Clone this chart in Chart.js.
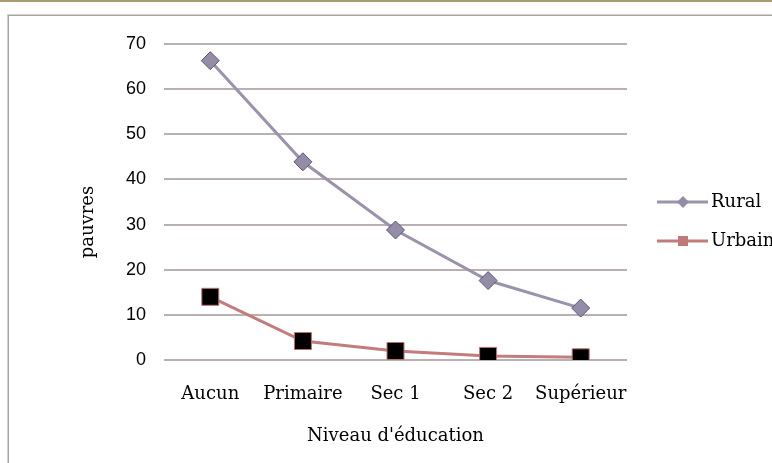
<!DOCTYPE html>
<html><head><meta charset="utf-8">
<script src="https://cdn.jsdelivr.net/npm/chart.js@4"></script>
<style>
html,body{margin:0;padding:0;background:#fff;overflow:hidden;}
#wrap{position:relative;width:772px;height:463px;overflow:hidden;}
#topline{position:absolute;left:0;top:0;width:772px;height:2px;background:#a89a6e;}
#box{position:absolute;left:7px;top:14px;width:820px;height:520px;border-left:1px solid #d4d0d0;border-top:1px solid #d4d0d0;box-shadow:inset 1px 1px 0 #a8a4a4;}
canvas{position:absolute;left:0;top:0;}
</style></head>
<body>
<div id="wrap">
<div id="topline"></div>
<div id="box"></div>
<canvas id="c" width="772" height="463"></canvas>
</div>
<script>
const categories = ['Aucun', 'Primaire', 'Sec 1', 'Sec 2', 'Supérieur'];
const rural = [66.3, 43.9, 28.8, 17.6, 11.5];
const urbain = [14.0, 4.2, 2.0, 0.9, 0.6];
const seriesNames = ['Rural', 'Urbain'];
const yTicks = [0, 10, 20, 30, 40, 50, 60, 70];
const xTitle = "Niveau d'éducation";
const yTitle = 'pauvres';

const serif = 'DejaVu Serif';

const overlay = {
  id: 'overlay',
  afterDraw(chart) {
    const ctx = chart.ctx;
    ctx.save();
    ctx.fillStyle = '#000';
    ctx.font = '18px "' + serif + '"';
    // y axis title
    ctx.save();
    ctx.translate(88, 222);
    ctx.rotate(-Math.PI / 2);
    ctx.textAlign = 'center';
    ctx.textBaseline = 'middle';
    ctx.fillText(yTitle, 0, 0);
    ctx.restore();
    // legend
    chart.data.datasets.forEach((ds, i) => {
      const y = 202 + 39 * i;
      ctx.strokeStyle = ds.borderColor;
      ctx.lineWidth = 3;
      ctx.beginPath();
      ctx.moveTo(657, y);
      ctx.lineTo(708, y);
      ctx.stroke();
      if (i === 0) {
        ctx.fillStyle = ds.pointBackgroundColor;
        ctx.beginPath();
        ctx.moveTo(683, y - 6); ctx.lineTo(689, y); ctx.lineTo(683, y + 6); ctx.lineTo(677, y);
        ctx.closePath(); ctx.fill();
      } else {
        ctx.fillStyle = '#c07878';
        ctx.fillRect(678, y - 5, 10, 10);
      }
      ctx.fillStyle = '#000';
      ctx.textAlign = 'left';
      ctx.textBaseline = 'middle';
      ctx.fillText(ds.label, 711, y);
    });
    ctx.restore();
  }
};

new Chart(document.getElementById('c'), {
  type: 'line',
  data: {
    labels: categories,
    datasets: [
      {
        label: seriesNames[0], data: rural,
        borderColor: '#9b92ab', borderWidth: 3,
        pointStyle: 'rectRot', pointRadius: 9, pointHoverRadius: 9,
        pointBackgroundColor: '#958ca8', pointBorderColor: '#5c5670', pointBorderWidth: 1,
        tension: 0
      },
      {
        label: seriesNames[1], data: urbain,
        borderColor: '#c27c7c', borderWidth: 3,
        pointStyle: 'rect', pointRadius: 12, pointHoverRadius: 12,
        pointBackgroundColor: '#000', pointBorderColor: '#b87070', pointBorderWidth: 1,
        tension: 0
      }
    ]
  },
  options: {
    responsive: false,
    animation: false,
    devicePixelRatio: 1,
    layout: { padding: { left: 0, right: 145, top: 44, bottom: 0 } },
    plugins: { legend: { display: false }, tooltip: { enabled: false } },
    scales: {
      x: {
        type: 'category',
        offset: true,
        grid: { display: false, drawTicks: false },
        border: { display: false },
        ticks: { color: '#000', font: { family: serif, size: 18 }, padding: 24, maxRotation: 0, autoSkip: false },
        title: { display: true, text: xTitle, color: '#000', font: { family: serif, size: 18 }, padding: { top: 0, bottom: 16 } },
        afterFit(s) { s.height = 103; }
      },
      y: {
        min: 0, max: 70,
        afterBuildTicks(s) { s.ticks = yTicks.map(v => ({ value: v })); },
        grid: { color: '#b9b1b1', lineWidth: 2, drawTicks: false },
        border: { display: false },
        ticks: { color: '#000', font: { family: 'Liberation Sans', size: 18 }, padding: 18 },
        afterFit(s) { s.width = 164; }
      }
    }
  },
  plugins: [overlay]
});
</script>
</body></html>
